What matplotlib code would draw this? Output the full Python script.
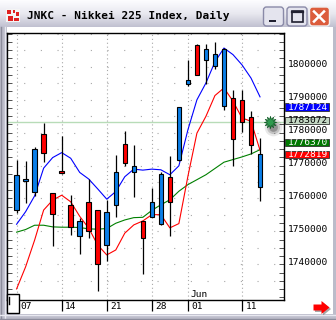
import numpy as np
import matplotlib
matplotlib.use('Agg')
import matplotlib.pyplot as plt
import matplotlib.transforms as mtrans
from matplotlib.patches import Rectangle, FancyBboxPatch, Polygon
from matplotlib.ticker import MultipleLocator

# daily bars, 07 May .. 13 Jun
days = ['05-07', '05-08', '05-09', '05-10', '05-11', '05-14', '05-15', '05-16', '05-17', '05-18',
        '05-21', '05-22', '05-23', '05-24', '05-25', '05-28', '05-29', '05-30', '05-31', '06-01',
        '06-04', '06-05', '06-06', '06-07', '06-08', '06-11', '06-12', '06-13']
opens = [1756500, 1765200, 1761900, 1779500, 1761700, 1768300, 1758000, 1748700, 1758800, 1756500,
         1745800, 1757900, 1776400, 1768100, 1753200, 1754500, 1752400, 1766400, 1771600, 1794800,
         1806600, 1801900, 1800100, 1787900, 1790500, 1789800, 1784600, 1763400]
highs = [1771700, 1771400, 1775700, 1783000, 1761700, 1778900, 1761100, 1754000, 1765900, 1756600,
         1759400, 1773200, 1780500, 1776200, 1753200, 1763200, 1767900, 1772800, 1787800, 1801900,
         1806900, 1806900, 1807300, 1805600, 1793000, 1793000, 1786500, 1778300]
lows = [1755700, 1758700, 1760800, 1771200, 1745700, 1767300, 1748900, 1743100, 1748100, 1732100,
        1741200, 1754500, 1769900, 1760500, 1737100, 1754400, 1752100, 1748500, 1771300, 1794200,
        1797300, 1794800, 1799100, 1786700, 1769700, 1780200, 1773600, 1759100]
closes = [1767100, 1765900, 1774900, 1773700, 1755400, 1767800, 1751500, 1753200, 1750200, 1740100,
          1755800, 1767900, 1770700, 1769800, 1748100, 1758800, 1767300, 1758800, 1787700, 1795800,
          1797300, 1805300, 1803900, 1805400, 1777900, 1783300, 1776300, 1773500]

ma_blue = [1752200, 1756000, 1760800, 1769200, 1772400, 1773900, 1772200, 1767900, 1765900, 1762900,
           1759800, 1762100, 1766600, 1768900, 1768600, 1768900, 1768700, 1767200, 1769900, 1780800,
           1789900, 1795000, 1801400, 1805600, 1803600, 1800500, 1796500, 1790800]
ma_red = [1732600, 1739300, 1747400, 1756500, 1759500, 1761000, 1759000, 1754600, 1751000, 1745900,
          1742900, 1744400, 1749500, 1752000, 1753200, 1755100, 1755100, 1751100, 1752400, 1766700,
          1779800, 1784900, 1791200, 1793500, 1789500, 1784400, 1783400, 1774600]
ma_green = [1749800, 1750600, 1751900, 1751900, 1751400, 1751300, 1751300, 1751200, 1750800, 1750700,
            1750900, 1752500, 1753500, 1754200, 1754300, 1756400, 1758100, 1759600, 1762200, 1764200,
            1765700, 1767200, 1769100, 1771000, 1771800, 1772600, 1773500, 1774800]

ref_level = 1783072
box_labels = [1787124, 1783072, 1776370, 1772819]
box_colors = ['#0000ff', '#c4d8c4', '#007800', '#ff0000']
box_text = ['white', 'black', 'white', 'white']
price_ticks = [1740000, 1750000, 1760000, 1770000, 1780000, 1790000, 1800000]
tick_dates = ['05-07', '05-14', '05-21', '05-28', '06-01', '06-11']

tick_idx = [days.index(d) for d in tick_dates]
tick_lbl = [d[3:] for d in tick_dates]
jun_idx = days.index('06-01')

W, H = 336, 320
fig = plt.figure(figsize=(W / 100, H / 100), dpi=100)
fig.patch.set_facecolor('white')

# ---- window chrome (pixel coords)
bg = fig.add_axes([0, 0, 1, 1])
bg.set_xlim(0, W)
bg.set_ylim(H, 0)
bg.axis('off')

top = np.array([0.99, 0.99, 1.0])
mid = np.array([0.91, 0.91, 0.94])
bot = np.array([0.76, 0.76, 0.82])
rows = []
for k in range(27):
    t = k / 26
    c = top + (mid - top) * t / 0.5 if t < 0.5 else mid + (bot - mid) * (t - 0.5) / 0.5
    rows.append(c)
grad = np.array(rows)[:, None, :]
bg.imshow(grad, extent=(0, W, 27, 0), aspect='auto', interpolation='bilinear')
bg.set_xlim(0, W)
bg.set_ylim(H, 0)

bg.add_patch(Rectangle((0, 27), 6.5, H - 27, fc='#bcbcca', ec='none'))
bg.plot([1, 1], [27, H], color='#8c8c9c', lw=1)
bg.plot([4.5, 4.5], [27, H], color='#e8e8f0', lw=1)
bg.add_patch(Rectangle((0, 313.5), W, 7, fc='#bcbcca', ec='none'))
bg.plot([0, W], [318.5, 318.5], color='#8c8c9c', lw=1)
bg.plot([0, W], [315, 315], color='#e8e8f0', lw=1)
bg.add_patch(Rectangle((333, 27), 3, H - 27, fc='#bcbcca', ec='none'))

# icon
bg.add_patch(Rectangle((6, 9), 14, 13, fc='#f4f4f4', ec='none'))
for (ix, iy, iw, ih) in [(7, 10, 4, 4), (13, 10, 2, 3), (16, 12, 3, 4), (8, 16, 5, 5), (14, 18, 5, 3)]:
    bg.add_patch(Rectangle((ix, iy), iw, ih, fc='#e02020', ec='none'))

bg.text(27, 16, 'JNKC - Nikkei 225 Index, Daily', family='DejaVu Sans Mono', weight='bold',
        fontsize=8, va='center', ha='left', color='black')

# title buttons
for bx, fc in [(263.5, '#e4e4ee'), (287, '#e4e4ee'), (309.5, '#dc5c3c')]:
    bg.add_patch(FancyBboxPatch((bx, 7), 20, 19, boxstyle='round,pad=0,rounding_size=3',
                                fc=fc, ec='#8a8aa8' if fc != '#dc5c3c' else '#f0f0f0', lw=1))
bg.add_patch(Rectangle((269, 19.5), 7, 2.5, fc='#202030', ec='none'))
bg.add_patch(Rectangle((291.5, 11), 11, 11, fc='none', ec='#202030', lw=1.2))
bg.plot([291.5, 302.5], [12, 12], color='#202030', lw=1.6)
bg.plot([314, 324], [11.5, 21.5], color='white', lw=1.8)
bg.plot([314, 324], [21.5, 11.5], color='white', lw=1.8)

# red scroll arrow
bg.add_patch(Polygon([[315, 306], [323, 306], [323, 302.5], [331, 309], [323, 315.5], [323, 312], [315, 312]],
                     closed=True, fc='#505050', ec='none', alpha=0.5))
bg.add_patch(Polygon([[313.5, 304.5], [321.5, 304.5], [321.5, 301], [329.5, 307.5], [321.5, 314], [321.5, 310.5], [313.5, 310.5]],
                     closed=True, fc='#ff0000', ec='none'))

# ---- chart
L, R, T, B = 6.5, 284, 33, 299.7
ax = fig.add_axes([L / W, (H - B) / H, (R - L) / W, (B - T) / H])
ax.set_facecolor('white')
x = np.arange(len(days))
ax.set_xlim(-1.12, 29.66)
ax.set_ylim(1729333, 1810152)

for lv in np.arange(1735000, 1810001, 5000):
    ax.axhline(lv, color='#a8a8a8', lw=0.8, ls=(0, (1, 14)), zorder=0)
for i in tick_idx:
    ax.axvline(i, color='#a8a8a8', lw=0.8, ls=(0, (1, 2.5)), zorder=0)

ax.axhline(ref_level, color='#b8dcb8', lw=1.0, zorder=1)

ax.plot(x, ma_green, color='#008000', lw=0.8, zorder=2)
ax.plot(x, ma_red, color='#ff0000', lw=0.8, zorder=2)
ax.plot(x, ma_blue, color='#0000ff', lw=0.8, zorder=2)

o = np.array(opens)
c = np.array(closes)
up = c >= o
ax.vlines(x, lows, highs, color='black', lw=0.9, zorder=3)
ax.bar(x, np.maximum(np.abs(c - o), 500), bottom=np.minimum(o, c), width=0.5,
       color=np.where(up, '#0a7ee8', '#ff0000'), edgecolor='black', linewidth=0.8, zorder=4)

# green marker with shadow
sx = len(days) + 0.1
for s, a in [(160, 0.10), (90, 0.18), (40, 0.3)]:
    ax.scatter([sx + 0.35], [ref_level - 1300], s=s, color='#202020', alpha=a, lw=0, zorder=5, clip_on=False)
ax.plot([sx], [ref_level], marker=(12, 1, 0), ms=9, color='#2e9a4e', mec='#0e5a24', mew=0.5,
        zorder=6, clip_on=False)

for sp in ax.spines.values():
    sp.set_color('black')
    sp.set_linewidth(1.0)

ax.yaxis.set_major_locator(MultipleLocator(2500))
ax.tick_params(axis='y', which='both', direction='in', left=True, right=True, length=3.5,
               width=0.7, color='#505050', labelleft=False, labelright=False)
ax.set_xticks(tick_idx)
ax.tick_params(axis='x', direction='out', length=8, width=0.9, color='black',
               labelbottom=False, top=False)

mono = 'DejaVu Sans Mono'
tr_x = mtrans.blended_transform_factory(ax.transData, ax.transAxes)
for i, lb in zip(tick_idx, tick_lbl):
    ax.text(i + 0.37, -0.027, lb, transform=tr_x, family=mono, fontsize=6.8, ha='left', va='center')
ax.text(jun_idx + 0.25, 0.018, 'Jun', transform=tr_x, family=mono, fontsize=6.8, ha='left', va='center')

tr_y = mtrans.blended_transform_factory(ax.transAxes, ax.transData)
xc = (308 - L) / (R - L)
for p in price_ticks:
    ax.text(xc, p + 600, str(p), transform=tr_y, family=mono, fontsize=6.8, ha='center', va='center')
for v, fc, tc in zip(box_labels, box_colors, box_text):
    ax.add_patch(Rectangle(((285.3 - L) / (R - L), v + 600 - 1080), 44 / (R - L), 2160, transform=tr_y,
                           fc=fc, ec='#303030', lw=0.6, clip_on=False, zorder=7))
    ax.text(xc, v + 600, str(v), transform=tr_y, family=mono, fontsize=6.8, ha='center', va='center',
            color=tc, zorder=8)

# ---- overlay: small box bottom left
ov = fig.add_axes([0, 0, 1, 1])
ov.set_xlim(0, W)
ov.set_ylim(H, 0)
ov.axis('off')
ov.patch.set_alpha(0)
ov.add_patch(Rectangle((6.7, 294), 12.6, 19.3, fc='white', ec='black', lw=1))
ov.plot([9, 9], [296.5, 303.5], color='black', lw=1)

fig.savefig('out.png', dpi=100)
